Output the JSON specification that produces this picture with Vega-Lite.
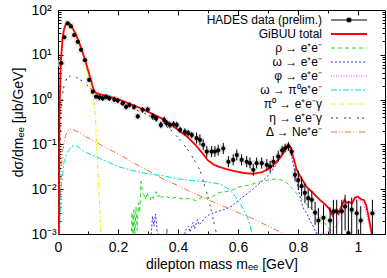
{
  "$schema": "https://vega.github.io/schema/vega-lite/v6.json",
  "width": 327,
  "height": 224,
  "autosize": "none",
  "padding": {"left": 58, "top": 10, "right": 2, "bottom": 44},
  "config": {
    "font": "Liberation Sans",
    "view": {"stroke": "#000", "strokeWidth": 1},
    "axis": {"domain": false, "grid": false, "labelFont": "Liberation Sans", "labelFontSize": 14, "titleFont": "Liberation Sans", "titleFontSize": 14, "titleFontWeight": "normal", "tickColor": "#000", "labelColor": "#000", "titleColor": "#000", "tickWidth": 1}
  },
  "datasets": {
    "curves": [
      {"s":"pi0","m":0.003,"v":0.0009},{"s":"pi0","m":0.005,"v":0.4},{"s":"pi0","m":0.008,"v":3},{"s":"pi0","m":0.01,"v":7},{"s":"pi0","m":0.015,"v":20},{"s":"pi0","m":0.02,"v":34},{"s":"pi0","m":0.025,"v":43},{"s":"pi0","m":0.03,"v":48},{"s":"pi0","m":0.035,"v":49},{"s":"pi0","m":0.04,"v":46},{"s":"pi0","m":0.05,"v":35},{"s":"pi0","m":0.06,"v":25},{"s":"pi0","m":0.07,"v":17},{"s":"pi0","m":0.08,"v":11},{"s":"pi0","m":0.09,"v":6.5},{"s":"pi0","m":0.1,"v":3.5},{"s":"pi0","m":0.11,"v":1.8},{"s":"pi0","m":0.115,"v":1.3},{"s":"pi0","m":0.12,"v":0.9},{"s":"pi0","m":0.123,"v":0.6},{"s":"pi0","m":0.126,"v":0.3},{"s":"pi0","m":0.129,"v":0.08},{"s":"pi0","m":0.133,"v":0.025},{"s":"pi0","m":0.138,"v":0.006},{"s":"pi0","m":0.143,"v":0.0009},
      {"s":"eta","m":0.003,"v":0.0009},{"s":"eta","m":0.006,"v":0.05},{"s":"eta","m":0.01,"v":0.5},{"s":"eta","m":0.015,"v":1.3},{"s":"eta","m":0.02,"v":2.0},{"s":"eta","m":0.03,"v":3.0},{"s":"eta","m":0.04,"v":3.4},{"s":"eta","m":0.05,"v":3.4},{"s":"eta","m":0.06,"v":3.2},{"s":"eta","m":0.08,"v":2.6},{"s":"eta","m":0.1,"v":2.0},{"s":"eta","m":0.12,"v":1.5},{"s":"eta","m":0.15,"v":1.1},{"s":"eta","m":0.2,"v":0.85},{"s":"eta","m":0.25,"v":0.63},{"s":"eta","m":0.3,"v":0.45},{"s":"eta","m":0.35,"v":0.29},{"s":"eta","m":0.38,"v":0.2},{"s":"eta","m":0.41,"v":0.12},{"s":"eta","m":0.44,"v":0.065},{"s":"eta","m":0.46,"v":0.038},{"s":"eta","m":0.475,"v":0.025},{"s":"eta","m":0.49,"v":0.011},{"s":"eta","m":0.5,"v":0.0068},{"s":"eta","m":0.51,"v":0.0035},{"s":"eta","m":0.52,"v":0.0018},{"s":"eta","m":0.53,"v":0.0009},
      {"s":"delta","m":0.004,"v":0.0009},{"s":"delta","m":0.008,"v":0.01},{"s":"delta","m":0.015,"v":0.07},{"s":"delta","m":0.025,"v":0.16},{"s":"delta","m":0.035,"v":0.21},{"s":"delta","m":0.045,"v":0.22},{"s":"delta","m":0.06,"v":0.2},{"s":"delta","m":0.08,"v":0.17},{"s":"delta","m":0.1,"v":0.14},{"s":"delta","m":0.14,"v":0.1},{"s":"delta","m":0.18,"v":0.072},{"s":"delta","m":0.22,"v":0.052},{"s":"delta","m":0.26,"v":0.036},{"s":"delta","m":0.3,"v":0.026},{"s":"delta","m":0.35,"v":0.017},{"s":"delta","m":0.4,"v":0.012},{"s":"delta","m":0.45,"v":0.0083},{"s":"delta","m":0.5,"v":0.0058},{"s":"delta","m":0.55,"v":0.0042},{"s":"delta","m":0.6,"v":0.003},{"s":"delta","m":0.65,"v":0.0022},{"s":"delta","m":0.7,"v":0.0015},{"s":"delta","m":0.75,"v":0.00105},{"s":"delta","m":0.755,"v":0.0009},
      {"s":"omegaD","m":0.005,"v":0.0009},{"s":"omegaD","m":0.01,"v":0.01},{"s":"omegaD","m":0.02,"v":0.04},{"s":"omegaD","m":0.03,"v":0.065},{"s":"omegaD","m":0.04,"v":0.082},{"s":"omegaD","m":0.05,"v":0.092},{"s":"omegaD","m":0.06,"v":0.095},{"s":"omegaD","m":0.07,"v":0.085},{"s":"omegaD","m":0.08,"v":0.075},{"s":"omegaD","m":0.1,"v":0.063},{"s":"omegaD","m":0.13,"v":0.052},{"s":"omegaD","m":0.16,"v":0.042},{"s":"omegaD","m":0.2,"v":0.032},{"s":"omegaD","m":0.25,"v":0.026},{"s":"omegaD","m":0.3,"v":0.022},{"s":"omegaD","m":0.35,"v":0.02},{"s":"omegaD","m":0.4,"v":0.017},{"s":"omegaD","m":0.45,"v":0.0155},{"s":"omegaD","m":0.5,"v":0.0145},{"s":"omegaD","m":0.54,"v":0.013},{"s":"omegaD","m":0.57,"v":0.01},{"s":"omegaD","m":0.59,"v":0.007},{"s":"omegaD","m":0.61,"v":0.0045},{"s":"omegaD","m":0.63,"v":0.0025},{"s":"omegaD","m":0.64,"v":0.0016},{"s":"omegaD","m":0.648,"v":0.0009},
      {"s":"rho","m":0.244,"v":0.0008},{"s":"rho","m":0.247,"v":0.003},{"s":"rho","m":0.25,"v":0.0008},{"s":"rho","m":0.253,"v":0.0035},{"s":"rho","m":0.256,"v":0.0008},{"s":"rho","m":0.26,"v":0.004},{"s":"rho","m":0.264,"v":0.0012},{"s":"rho","m":0.268,"v":0.005},{"s":"rho","m":0.272,"v":0.003},{"s":"rho","m":0.277,"v":0.015},{"s":"rho","m":0.282,"v":0.008},{"s":"rho","m":0.287,"v":0.0075},{"s":"rho","m":0.292,"v":0.006},{"s":"rho","m":0.297,"v":0.0085},{"s":"rho","m":0.302,"v":0.0065},{"s":"rho","m":0.307,"v":0.0058},{"s":"rho","m":0.312,"v":0.0072},{"s":"rho","m":0.317,"v":0.0062},{"s":"rho","m":0.322,"v":0.0078},{"s":"rho","m":0.327,"v":0.0088},{"s":"rho","m":0.332,"v":0.0068},{"s":"rho","m":0.337,"v":0.0074},{"s":"rho","m":0.342,"v":0.0062},{"s":"rho","m":0.347,"v":0.007},{"s":"rho","m":0.355,"v":0.0064},{"s":"rho","m":0.365,"v":0.0068},{"s":"rho","m":0.375,"v":0.006},{"s":"rho","m":0.39,"v":0.0066},{"s":"rho","m":0.405,"v":0.0063},{"s":"rho","m":0.42,"v":0.006},{"s":"rho","m":0.44,"v":0.0062},{"s":"rho","m":0.46,"v":0.0055},{"s":"rho","m":0.48,"v":0.0066},{"s":"rho","m":0.5,"v":0.0062},{"s":"rho","m":0.52,"v":0.0072},{"s":"rho","m":0.54,"v":0.0085},{"s":"rho","m":0.56,"v":0.0088},{"s":"rho","m":0.58,"v":0.0095},{"s":"rho","m":0.6,"v":0.011},{"s":"rho","m":0.62,"v":0.0118},{"s":"rho","m":0.64,"v":0.0125},{"s":"rho","m":0.66,"v":0.0138},{"s":"rho","m":0.68,"v":0.015},{"s":"rho","m":0.7,"v":0.016},{"s":"rho","m":0.72,"v":0.0168},{"s":"rho","m":0.74,"v":0.0165},{"s":"rho","m":0.76,"v":0.0145},{"s":"rho","m":0.78,"v":0.0105},{"s":"rho","m":0.8,"v":0.0075},{"s":"rho","m":0.82,"v":0.0052},{"s":"rho","m":0.84,"v":0.004},{"s":"rho","m":0.86,"v":0.0029},{"s":"rho","m":0.88,"v":0.0021},{"s":"rho","m":0.9,"v":0.0014},{"s":"rho","m":0.92,"v":0.0009},
      {"s":"omega","m":0.31,"v":0.0008},{"s":"omega","m":0.315,"v":0.0025},{"s":"omega","m":0.32,"v":0.0015},{"s":"omega","m":0.325,"v":0.0028},{"s":"omega","m":0.33,"v":0.0012},{"s":"omega","m":0.335,"v":0.0008},{"s":"omega","m":0.36,"v":0.0008},{"s":"omega","m":0.363,"v":0.0013},{"s":"omega","m":0.366,"v":0.0008},{"s":"omega","m":0.42,"v":0.0008},{"s":"omega","m":0.425,"v":0.0012},{"s":"omega","m":0.435,"v":0.0015},{"s":"omega","m":0.44,"v":0.0011},{"s":"omega","m":0.45,"v":0.0018},{"s":"omega","m":0.455,"v":0.0013},{"s":"omega","m":0.465,"v":0.0021},{"s":"omega","m":0.47,"v":0.0016},{"s":"omega","m":0.48,"v":0.0019},{"s":"omega","m":0.49,"v":0.0023},{"s":"omega","m":0.5,"v":0.0026},{"s":"omega","m":0.52,"v":0.003},{"s":"omega","m":0.54,"v":0.0033},{"s":"omega","m":0.56,"v":0.0036},{"s":"omega","m":0.58,"v":0.0042},{"s":"omega","m":0.6,"v":0.0055},{"s":"omega","m":0.62,"v":0.007},{"s":"omega","m":0.64,"v":0.0088},{"s":"omega","m":0.66,"v":0.0115},{"s":"omega","m":0.68,"v":0.015},{"s":"omega","m":0.7,"v":0.02},{"s":"omega","m":0.72,"v":0.03},{"s":"omega","m":0.74,"v":0.05},{"s":"omega","m":0.755,"v":0.075},{"s":"omega","m":0.765,"v":0.09},{"s":"omega","m":0.772,"v":0.08},{"s":"omega","m":0.78,"v":0.05},{"s":"omega","m":0.79,"v":0.022},{"s":"omega","m":0.8,"v":0.011},{"s":"omega","m":0.81,"v":0.0055},{"s":"omega","m":0.82,"v":0.0035},{"s":"omega","m":0.83,"v":0.0028},{"s":"omega","m":0.84,"v":0.002},{"s":"omega","m":0.85,"v":0.0015},{"s":"omega","m":0.86,"v":0.0011},{"s":"omega","m":0.87,"v":0.0008},
      {"s":"phi","m":0.855,"v":0.0008},{"s":"phi","m":0.86,"v":0.0012},{"s":"phi","m":0.87,"v":0.0009},{"s":"phi","m":0.88,"v":0.0011},{"s":"phi","m":0.89,"v":0.001},{"s":"phi","m":0.9,"v":0.0012},{"s":"phi","m":0.91,"v":0.0011},{"s":"phi","m":0.92,"v":0.0014},{"s":"phi","m":0.93,"v":0.0015},{"s":"phi","m":0.94,"v":0.0022},{"s":"phi","m":0.95,"v":0.0035},{"s":"phi","m":0.96,"v":0.0045},{"s":"phi","m":0.97,"v":0.0045},{"s":"phi","m":0.98,"v":0.0055},{"s":"phi","m":0.99,"v":0.006},{"s":"phi","m":1.0,"v":0.0058},{"s":"phi","m":1.01,"v":0.0055},{"s":"phi","m":1.02,"v":0.0045},{"s":"phi","m":1.03,"v":0.0025},{"s":"phi","m":1.04,"v":0.0013},{"s":"phi","m":1.045,"v":0.0008},
      {"s":"total","m":0.003,"v":0.0009},{"s":"total","m":0.005,"v":0.5},{"s":"total","m":0.008,"v":3.5},{"s":"total","m":0.01,"v":8},{"s":"total","m":0.015,"v":22},{"s":"total","m":0.02,"v":37},{"s":"total","m":0.025,"v":46},{"s":"total","m":0.03,"v":51},{"s":"total","m":0.035,"v":52},{"s":"total","m":0.04,"v":49},{"s":"total","m":0.05,"v":38},{"s":"total","m":0.06,"v":28},{"s":"total","m":0.07,"v":19},{"s":"total","m":0.08,"v":12.5},{"s":"total","m":0.09,"v":7.8},{"s":"total","m":0.1,"v":4.6},{"s":"total","m":0.11,"v":2.7},{"s":"total","m":0.115,"v":2.0},{"s":"total","m":0.12,"v":1.6},{"s":"total","m":0.125,"v":1.45},{"s":"total","m":0.13,"v":1.38},{"s":"total","m":0.14,"v":1.32},{"s":"total","m":0.15,"v":1.27},{"s":"total","m":0.17,"v":1.17},{"s":"total","m":0.2,"v":1.02},{"s":"total","m":0.24,"v":0.8},{"s":"total","m":0.28,"v":0.62},{"s":"total","m":0.32,"v":0.46},{"s":"total","m":0.36,"v":0.34},{"s":"total","m":0.4,"v":0.21},{"s":"total","m":0.43,"v":0.15},{"s":"total","m":0.46,"v":0.095},{"s":"total","m":0.48,"v":0.065},{"s":"total","m":0.5,"v":0.044},{"s":"total","m":0.52,"v":0.035},{"s":"total","m":0.54,"v":0.031},{"s":"total","m":0.58,"v":0.026},{"s":"total","m":0.62,"v":0.023},{"s":"total","m":0.65,"v":0.022},{"s":"total","m":0.68,"v":0.024},{"s":"total","m":0.7,"v":0.028},{"s":"total","m":0.72,"v":0.036},{"s":"total","m":0.74,"v":0.05},{"s":"total","m":0.75,"v":0.062},{"s":"total","m":0.76,"v":0.085},{"s":"total","m":0.767,"v":0.098},{"s":"total","m":0.775,"v":0.085},{"s":"total","m":0.785,"v":0.05},{"s":"total","m":0.795,"v":0.028},{"s":"total","m":0.81,"v":0.018},{"s":"total","m":0.83,"v":0.011},{"s":"total","m":0.85,"v":0.0083},{"s":"total","m":0.87,"v":0.006},{"s":"total","m":0.89,"v":0.0046},{"s":"total","m":0.905,"v":0.0036},{"s":"total","m":0.915,"v":0.0026},{"s":"total","m":0.925,"v":0.0033},{"s":"total","m":0.935,"v":0.0028},{"s":"total","m":0.945,"v":0.0042},{"s":"total","m":0.955,"v":0.0058},{"s":"total","m":0.962,"v":0.005},{"s":"total","m":0.97,"v":0.0052},{"s":"total","m":0.98,"v":0.0048},{"s":"total","m":0.99,"v":0.0065},{"s":"total","m":1.0,"v":0.0068},{"s":"total","m":1.01,"v":0.006},{"s":"total","m":1.02,"v":0.0057},{"s":"total","m":1.028,"v":0.0042},{"s":"total","m":1.035,"v":0.0025},{"s":"total","m":1.042,"v":0.0014},{"s":"total","m":1.048,"v":0.0009}
    ],
    "hades": [
      {"m":0.011,"v":6.5,"lo":6.0,"hi":7.1},{"m":0.021,"v":24.5,"lo":22.5,"hi":26.7},{"m":0.032,"v":50,"lo":46,"hi":54.5},{"m":0.043,"v":43,"lo":39.6,"hi":46.9},{"m":0.054,"v":27.5,"lo":25.3,"hi":30},{"m":0.066,"v":19.5,"lo":17.9,"hi":21.3},{"m":0.077,"v":12.9,"lo":11.9,"hi":14.1},{"m":0.09,"v":7.6,"lo":7.0,"hi":8.3},{"m":0.104,"v":2.75,"lo":2.53,"hi":3.0},{"m":0.116,"v":1.5,"lo":1.38,"hi":1.64},{"m":0.127,"v":1.16,"lo":1.07,"hi":1.26},
      {"m":0.138,"v":1.12,"lo":0.97,"hi":1.29},{"m":0.149,"v":1.07,"lo":0.93,"hi":1.23},{"m":0.16,"v":1.16,"lo":1.01,"hi":1.33},{"m":0.171,"v":1.07,"lo":0.93,"hi":1.23},{"m":0.188,"v":1.01,"lo":0.88,"hi":1.16},{"m":0.199,"v":0.95,"lo":0.83,"hi":1.09},{"m":0.216,"v":0.83,"lo":0.72,"hi":0.95},{"m":0.227,"v":0.69,"lo":0.6,"hi":0.79},{"m":0.238,"v":0.76,"lo":0.66,"hi":0.87},{"m":0.254,"v":0.69,"lo":0.6,"hi":0.79},{"m":0.266,"v":0.42,"lo":0.37,"hi":0.48},{"m":0.282,"v":0.59,"lo":0.51,"hi":0.68},{"m":0.299,"v":0.6,"lo":0.52,"hi":0.69},
      {"m":0.316,"v":0.42,"lo":0.35,"hi":0.5},{"m":0.327,"v":0.38,"lo":0.32,"hi":0.45},{"m":0.343,"v":0.27,"lo":0.23,"hi":0.32},{"m":0.354,"v":0.35,"lo":0.29,"hi":0.42},{"m":0.362,"v":0.295,"lo":0.25,"hi":0.35},{"m":0.373,"v":0.27,"lo":0.23,"hi":0.32},{"m":0.385,"v":0.28,"lo":0.24,"hi":0.33},{"m":0.396,"v":0.27,"lo":0.23,"hi":0.32},{"m":0.407,"v":0.21,"lo":0.18,"hi":0.25},{"m":0.423,"v":0.19,"lo":0.16,"hi":0.23},{"m":0.434,"v":0.178,"lo":0.15,"hi":0.21},{"m":0.446,"v":0.162,"lo":0.136,"hi":0.19},
      {"m":0.462,"v":0.138,"lo":0.104,"hi":0.184},{"m":0.473,"v":0.126,"lo":0.095,"hi":0.168},{"m":0.484,"v":0.098,"lo":0.074,"hi":0.13},{"m":0.496,"v":0.069,"lo":0.052,"hi":0.092},{"m":0.512,"v":0.069,"lo":0.052,"hi":0.092},{"m":0.523,"v":0.069,"lo":0.052,"hi":0.092},{"m":0.534,"v":0.074,"lo":0.056,"hi":0.098},{"m":0.551,"v":0.081,"lo":0.061,"hi":0.108},{"m":0.568,"v":0.041,"lo":0.031,"hi":0.055},{"m":0.584,"v":0.045,"lo":0.034,"hi":0.06},{"m":0.596,"v":0.058,"lo":0.044,"hi":0.077},{"m":0.612,"v":0.045,"lo":0.034,"hi":0.06},{"m":0.629,"v":0.041,"lo":0.031,"hi":0.055},{"m":0.64,"v":0.038,"lo":0.029,"hi":0.051},{"m":0.651,"v":0.027,"lo":0.02,"hi":0.036},{"m":0.662,"v":0.038,"lo":0.029,"hi":0.051},{"m":0.679,"v":0.038,"lo":0.029,"hi":0.051},{"m":0.696,"v":0.035,"lo":0.026,"hi":0.047},{"m":0.707,"v":0.032,"lo":0.024,"hi":0.043},{"m":0.718,"v":0.041,"lo":0.031,"hi":0.055},{"m":0.734,"v":0.054,"lo":0.041,"hi":0.072},
      {"m":0.747,"v":0.074,"lo":0.059,"hi":0.093},{"m":0.757,"v":0.082,"lo":0.066,"hi":0.103},{"m":0.768,"v":0.09,"lo":0.072,"hi":0.113},{"m":0.779,"v":0.069,"lo":0.055,"hi":0.086},{"m":0.79,"v":0.021,"lo":0.015,"hi":0.029},{"m":0.801,"v":0.016,"lo":0.0096,"hi":0.026},{"m":0.812,"v":0.0117,"lo":0.007,"hi":0.019},{"m":0.823,"v":0.0083,"lo":0.005,"hi":0.0133},{"m":0.834,"v":0.0063,"lo":0.0038,"hi":0.01},{"m":0.846,"v":0.0058,"lo":0.0035,"hi":0.0093},{"m":0.857,"v":0.003,"lo":0.0016,"hi":0.0052},{"m":0.868,"v":0.002,"lo":0.0009,"hi":0.0038},
      {"m":0.885,"v":0.0023,"lo":0.0009,"hi":0.0045},{"m":0.907,"v":0.002,"lo":0.0009,"hi":0.004},{"m":0.918,"v":0.0032,"lo":0.0009,"hi":0.0058},{"m":0.929,"v":0.0032,"lo":0.0009,"hi":0.0058},{"m":0.946,"v":0.0032,"lo":0.0009,"hi":0.0058},{"m":0.957,"v":0.0041,"lo":0.0012,"hi":0.0075},{"m":0.968,"v":0.00105,"lo":0.0009,"hi":0.0055},{"m":0.979,"v":0.0035,"lo":0.0009,"hi":0.0065},{"m":0.996,"v":0.0029,"lo":0.0009,"hi":0.0058},{"m":1.009,"v":0.002,"lo":0.0009,"hi":0.0042},{"m":1.048,"v":0.0029,"lo":0.0009,"hi":0.0058}
    ]
  },
  "resolve": {"axis": {"x": "independent", "y": "independent"}},
  "layer": [
    {
      "data": {"name": "hades"},
      "mark": {"type": "point", "shape": "square", "filled": true, "color": "#d9d9d9", "opacity": 0.7, "size": 45, "clip": true},
      "encoding": {
        "x": {"field": "m", "type": "quantitative", "scale": {"domain": [0, 1.09], "nice": false, "zero": false},
          "axis": {"orient": "bottom", "values": [0,0.1,0.2,0.3,0.4,0.5,0.6,0.7,0.8,0.9,1.0], "labelExpr": "round(datum.value*10) % 2 === 0 ? format(datum.value, '~g') : ''", "tickSize": {"condition": {"test": "round(datum.value*10) % 2 === 0", "value": -5}, "value": -3}, "labelPadding": 11, "title": "dilepton mass mₑₑ [GeV]", "titlePadding": 3, "labelFlush": false}},
        "y": {"field": "v", "type": "quantitative", "scale": {"type": "log", "domain": [0.001, 100], "nice": false},
          "axis": {"orient": "left", "values": [0.001,0.002,0.003,0.004,0.005,0.006,0.007,0.008,0.009,0.01,0.02,0.03,0.04,0.05,0.06,0.07,0.08,0.09,0.1,0.2,0.3,0.4,0.5,0.6,0.7,0.8,0.9,1,2,3,4,5,6,7,8,9,10,20,30,40,50,60,70,80,90,100],
            "labelExpr": "abs(log(datum.value)/LN10 - round(log(datum.value)/LN10)) < 0.001 ? ['10⁻³','10⁻²','10⁻¹','10⁰','10¹','10²'][round(log(datum.value)/LN10)+3] : ''",
            "tickSize": {"condition": {"test": "abs(log(datum.value)/LN10 - round(log(datum.value)/LN10)) < 0.001", "value": -5}, "value": -3},
            "labelAlign": "left", "labelPadding": 32, "labelFlush": false, "title": "dσ/dmₑₑ [μb/GeV]", "titlePadding": 6}}
      }
    },
    {
      "data": {"name": "curves"},
      "mark": {"type": "line", "clip": true, "interpolate": "linear"},
      "encoding": {
        "x": {"field": "m", "type": "quantitative", "axis": null},
        "y": {"field": "v", "type": "quantitative", "axis": null},
        "color": {"field": "s", "type": "nominal",
          "scale": {"domain": ["data","total","rho","omega","phi","omegaD","pi0","eta","delta"], "range": ["#000000","#ff0000","#22dd22","#3333ff","#ee44ee","#00dddd","#eeee00","#333333","#ff6a3a"]},
          "legend": {"orient": "none", "legendX": 285, "legendY": 4, "title": null, "padding": 0, "symbolType": "M-3,0H3", "symbolSize": 144, "symbolStrokeWidth": 1, "labelAlign": "right", "labelOffset": -33, "labelFontSize": 12, "labelFont": "Liberation Sans", "labelColor": "#000", "rowPadding": 2, "labelLimit": 300,
            "labelExpr": "{'data':'HADES data (prelim.)','total':'GiBUU total','rho':'ρ → e⁺e⁻','omega':'ω → e⁺e⁻','phi':'φ → e⁺e⁻','omegaD':'ω → π⁰e⁺e⁻','pi0':'π⁰ → e⁺e⁻γ','eta':'η → e⁺e⁻γ','delta':'Δ → Ne⁺e⁻'}[datum.value]",
            "encode": {"symbols": {"update": {
              "shape": {"signal": "datum.value === 'data' ? 'M-3,0H3M-0.3,-0.3H0.3V0.3H-0.3Z' : 'M-3,0H3'"},
              "fill": {"signal": "datum.value === 'data' ? '#000' : 'transparent'"},
              "strokeWidth": {"signal": "datum.value === 'total' ? 2 : 1"}}}}}},
        "strokeDash": {"field": "s", "type": "nominal",
          "scale": {"domain": ["data","total","rho","omega","phi","omegaD","pi0","eta","delta"], "range": [[1,0],[1,0],[4,3],[2,2],[1,1.5],[6,2,2,2],[4,2,1,2],[2,3,2,6],[6,2,1,2,1,2]]}},
        "strokeWidth": {"condition": {"test": "datum.s === 'total'", "value": 1.8}, "value": 1}
      }
    },
    {
      "data": {"name": "hades"},
      "mark": {"type": "rule", "color": "#000", "strokeWidth": 1, "clip": true},
      "encoding": {
        "x": {"field": "m", "type": "quantitative", "axis": null},
        "y": {"field": "lo", "type": "quantitative", "axis": null},
        "y2": {"field": "hi"}
      }
    },
    {
      "data": {"name": "hades"},
      "mark": {"type": "point", "shape": "circle", "filled": true, "color": "#000", "opacity": 1, "size": 18, "clip": true},
      "encoding": {
        "x": {"field": "m", "type": "quantitative",
          "axis": {"orient": "top", "values": [0,0.1,0.2,0.3,0.4,0.5,0.6,0.7,0.8,0.9,1.0], "labels": false, "title": null, "tickSize": {"condition": {"test": "round(datum.value*10) % 2 === 0", "value": -5}, "value": -3}}},
        "y": {"field": "v", "type": "quantitative",
          "axis": {"orient": "right", "values": [0.001,0.002,0.003,0.004,0.005,0.006,0.007,0.008,0.009,0.01,0.02,0.03,0.04,0.05,0.06,0.07,0.08,0.09,0.1,0.2,0.3,0.4,0.5,0.6,0.7,0.8,0.9,1,2,3,4,5,6,7,8,9,10,20,30,40,50,60,70,80,90,100], "labels": false, "title": null,
            "tickSize": {"condition": {"test": "abs(log(datum.value)/LN10 - round(log(datum.value)/LN10)) < 0.001", "value": -5}, "value": -3}}}
      }
    },
    {
      "mark": {"type": "text", "text": "a)", "align": "left", "baseline": "middle", "fontSize": 14, "font": "Liberation Sans", "color": "#000"},
      "encoding": {
        "x": {"datum": 0.1, "type": "quantitative", "axis": null},
        "y": {"datum": 34, "type": "quantitative", "axis": null}
      }
    }
  ]
}
